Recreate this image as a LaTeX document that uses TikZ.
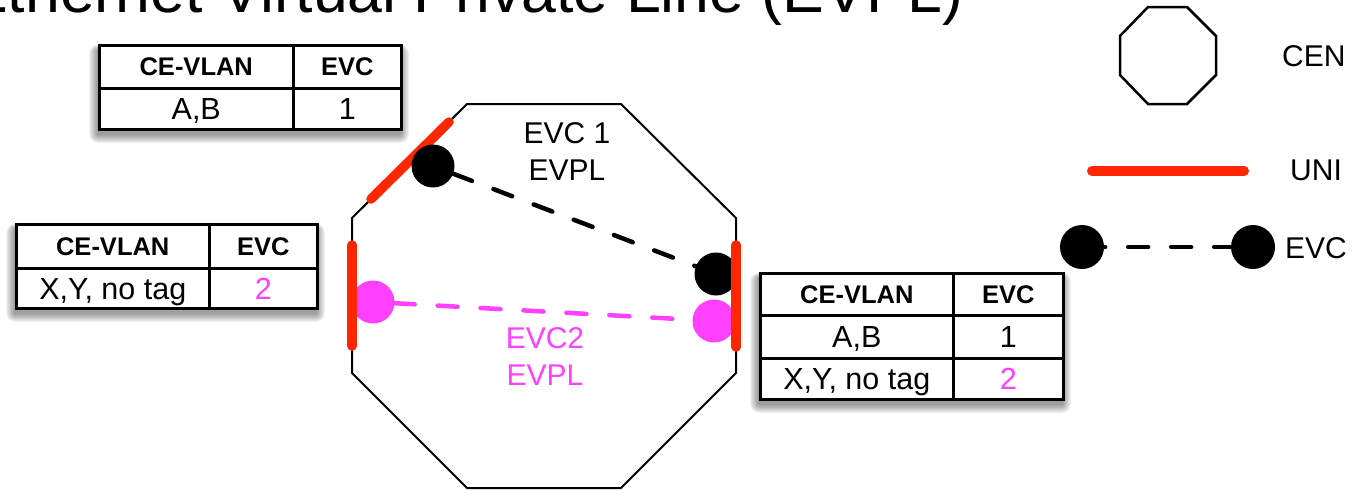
\documentclass[tikz,border=0pt]{standalone}
\usepackage{fontspec}
\setmainfont{Liberation Sans}
\definecolor{unired}{RGB}{255,38,0}
\definecolor{evcpink}{RGB}{255,64,255}
\newcommand{\tshadow}[4]{%
  \foreach \s in {1,...,9}{%
    \fill[black,opacity=0.05,rounded corners=\s pt]
      ({#1-\s},{#2+6-\s*0.6}) rectangle ({#3+\s},{#4+6+\s});
  }}
\begin{document}
\begin{tikzpicture}[x=1pt,y=-1pt,
  cellbase/.style={draw, line width=2.5pt, fill=white, inner sep=0pt, anchor=north west},
  hdr/.style={cellbase, font=\fontsize{25.5}{30}\selectfont\bfseries, text height=18.3pt, text depth=0pt},
  dat/.style={cellbase, font=\fontsize{30.5}{36}\selectfont, text height=21.8pt, text depth=0pt},
  uni/.style={unired, line width=9.5pt, line cap=round},
  evcdash/.style={line width=4.5pt, line cap=round, dash pattern=on 20pt off 23pt},
  bdot/.style={circle, fill=black, minimum size=43pt, inner sep=0pt},
  pdot/.style={circle, fill=evcpink, minimum size=43pt, inner sep=0pt},
  lbl/.style={font=\fontsize{30}{37}\selectfont, align=center, inner sep=0pt},
  oct/.style={line width=2pt, line join=miter},
]
\useasboundingbox (0,0) rectangle (1361,490);
\clip (0,0) rectangle (1361,490);

% title (cut off at the top, as in the reference)
\node[anchor=base west, inner sep=0pt, font=\fontsize{62.6}{70}\selectfont] (title) at (-34,12) {Ethernet Virtual Private Line (EVPL)};

% CEN octagon
\draw[oct] (467,104) -- (621,104) -- (736,218) -- (736,373) -- (621,488) -- (467,488) -- (352,373) -- (352,218) -- cycle;

% UNI on the diagonal edge
\coordinate (u1a) at (449,122);
\coordinate (u1b) at (371,199);
\draw[uni] (u1a) -- (u1b);

% EVC end points
\node[bdot] (b1) at (433,166) {};
\node[bdot] (b2) at (716,274) {};
\node[pdot] (p1) at (373,302) {};
\node[pdot] (p2) at (714,321) {};
\draw[evcdash] (b1) -- (b2);
\draw[evcdash, evcpink] (p1) -- (p2);

% vertical UNIs
\coordinate (u2a) at (352,245);
\coordinate (u2b) at (352,346);
\coordinate (u3a) at (736,245);
\coordinate (u3b) at (736,347);
\draw[uni] (u2a) -- (u2b);
\draw[uni] (u3a) -- (u3b);

% labels in the CEN
\node[lbl] (evc1lbl) at (567,151.5) {EVC 1\\EVPL};
\node[lbl, text=evcpink] (evc2lbl) at (545,356.5) {EVC2\\EVPL};

% table 1
\tshadow{98}{44}{400}{128}
\node[hdr, minimum width=194pt, minimum height=43pt] (t1h1) at (98,44) {CE-VLAN};
\node[hdr, minimum width=108pt, minimum height=43pt] (t1h2) at (292,44) {EVC};
\node[dat, minimum width=194pt, minimum height=41pt] (t1d1) at (98,87) {A,B};
\node[dat, minimum width=108pt, minimum height=41pt] (t1d2) at (292,87) {1};

% table 2
\tshadow{15}{223}{316}{307}
\node[hdr, minimum width=193pt, minimum height=44pt] (t2h1) at (15,223) {CE-VLAN};
\node[hdr, minimum width=108pt, minimum height=44pt] (t2h2) at (208,223) {EVC};
\node[dat, minimum width=193pt, minimum height=40pt] (t2d1) at (15,267) {X,Y, no tag};
\node[dat, minimum width=108pt, minimum height=40pt, text=evcpink] (t2d2) at (208,267) {2};

% table 3
\tshadow{759}{272}{1062}{398}
\node[hdr, minimum width=193pt, minimum height=42pt] (t3h1) at (759,272) {CE-VLAN};
\node[hdr, minimum width=110pt, minimum height=42pt] (t3h2) at (952,272) {EVC};
\node[dat, minimum width=193pt, minimum height=43pt] (t3d1) at (759,314) {A,B};
\node[dat, minimum width=110pt, minimum height=43pt] (t3d2) at (952,314) {1};
\node[dat, minimum width=193pt, minimum height=41pt] (t3e1) at (759,357) {X,Y, no tag};
\node[dat, minimum width=110pt, minimum height=41pt, text=evcpink] (t3e2) at (952,357) {2};

% legend
\draw[line width=2.5pt, line join=miter] (1148,7) -- (1187,7) -- (1216,36) -- (1216,75) -- (1187,104) -- (1148,104) -- (1120,75) -- (1120,36) -- cycle;
\node[lbl, anchor=west] (lcen) at (1282,56) {CEN};
\coordinate (lu1) at (1092,171);
\coordinate (lu2) at (1244,171);
\draw[uni, line width=10pt] (lu1) -- (lu2);
\node[lbl, anchor=west] (luni) at (1290,170) {UNI};
\node[bdot, minimum size=44pt] (le1) at (1082,247) {};
\node[bdot, minimum size=44pt] (le2) at (1253,247) {};
\draw[evcdash, dash phase=19pt] (le1) -- (le2);
\node[lbl, anchor=west] (levc) at (1285,248) {EVC};
\end{tikzpicture}
\end{document}
